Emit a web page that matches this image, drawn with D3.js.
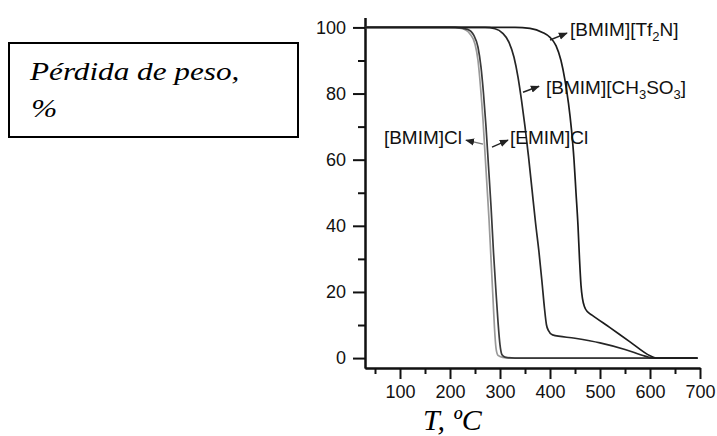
<!DOCTYPE html>
<html>
<head>
<meta charset="utf-8">
<script src="https://cdn.jsdelivr.net/npm/d3@7"></script>
<style>
  body { margin: 0; background: #fff; }
  svg { display: block; }
  .tick-label { font-family: "Liberation Sans", Arial, sans-serif; font-size: 18px; fill: #111; }
  .curve-label { font-family: "Liberation Sans", Arial, sans-serif; font-size: 19px; fill: #111; }
  .serif-it { font-family: "Liberation Serif", "Times New Roman", serif; font-style: italic; fill: #000; }
</style>
</head>
<body>
<svg id="chart"></svg>
<script>
// TGA curves, temperature (ºC) vs remaining weight (%)
var bmimCl = [[30,100],[200,100],[225,99.6],[240,98],[250,95],[256,90],[261,82],[266,72],[270,62],[274,52],[278,42],[282,30],[286,18],[289,9],[292,3],[296,0.8],[305,0.2],[320,0],[695,0]]
var emimCl = [[30,100],[210,100],[235,99.4],[248,97.5],[256,94],[262,88],[267,80],[272,70],[277,58],[282,46],[287,32],[292,20],[296,11],[300,4],[304,1],[310,0.3],[330,0],[695,0]]
var ch3so3 = [[30,100],[270,100],[290,99.6],[305,98.3],[318,95.5],[328,91],[336,85],[343,78],[350,70],[357,61],[364,51],[371,41],[378,32],[384,23],[389,15],[393,10],[397,8.3],[405,7],[450,6],[500,4.6],[550,2.6],[590,0.6],[605,0],[695,0]]
var tf2n = [[30,100],[330,100],[360,99.7],[385,98.5],[400,97],[412,94.5],[422,90],[430,84],[437,77],[443,69],[448,60],[452,50],[456,40],[459,30],[462,22],[465,18],[469,15.5],[475,14],[484,13],[520,9.2],[560,4.9],[600,0.7],[612,0],[695,0]]

var seriesNames = ["[BMIM]Cl", "[EMIM]Cl", "[BMIM][CH3SO3]", "[BMIM][Tf2N]"]
var seriesData = [bmimCl, emimCl, ch3so3, tf2n]
var seriesColors = ["#9a9a9a", "#3a3a3a", "#262626", "#1c1c1c"]

var xMajor = [100, 200, 300, 400, 500, 600, 700]
var xMinor = [50, 150, 250, 350, 450, 550, 650]
var yMajor = [0, 20, 40, 60, 80, 100]
var yMinor = [10, 30, 50, 70, 90]

// annotation arrows: [tailT, tailW, headT, headW], labels: [T, W, anchor]
var arrows = [[266, 64.7, 232, 65.9], [284, 63.8, 316, 65.9], [346, 80.4, 378, 82.2], [400, 96.2, 434, 98.3]]
var labelPos = [[224, 64.7, "end"], [320, 64.7, "start"], [392, 79.8, "start"], [440, 97.5, "start"]]

var width = 717, height = 436

var svg = d3.select("#chart").attr("width", width).attr("height", height)

var x = d3.scaleLinear().domain([30, 700]).range([365, 700])
var y = d3.scaleLinear().domain([-3, 103]).range([368, 17.5])

// axes
var xAxisMajor = d3.axisBottom(x).tickValues(xMajor).tickSize(11).tickPadding(6).tickSizeOuter(0)
var xAxisMinor = d3.axisBottom(x).tickValues(xMinor).tickSize(6).tickFormat("").tickSizeOuter(0)
var yAxisMajor = d3.axisLeft(y).tickValues(yMajor).tickSize(12).tickPadding(7).tickSizeOuter(0)
var yAxisMinor = d3.axisLeft(y).tickValues(yMinor).tickSize(7).tickFormat("").tickSizeOuter(0)

function styleAxis(g) {
    g.select(".domain").attr("stroke", "#111").attr("stroke-width", 2)
    g.selectAll(".tick line").attr("stroke", "#111").attr("stroke-width", 2)
    g.selectAll(".tick text").attr("class", "tick-label").attr("font-size", null).attr("font-family", null)
    g.attr("font-size", null).attr("font-family", null)
}

svg.append("g").attr("transform", "translate(0,368)").call(xAxisMinor).call(styleAxis)
svg.append("g").attr("transform", "translate(0,368)").call(xAxisMajor).call(styleAxis)
svg.append("g").attr("transform", "translate(365,0)").call(yAxisMinor).call(styleAxis)
svg.append("g").attr("transform", "translate(365,0)").call(yAxisMajor).call(styleAxis)

// curves
var line = d3.line()
    .x(function (d) { return x(d[0]) })
    .y(function (d) { return y(d[1]) })
    .curve(d3.curveMonotoneX)

svg.selectAll("path.curve")
    .data(seriesData)
    .enter().append("path")
    .attr("class", "curve")
    .attr("fill", "none")
    .attr("stroke", function (d, i) { return seriesColors[i] })
    .attr("stroke-width", 1.7)
    .attr("d", line)

// arrows
svg.append("defs").append("marker")
    .attr("id", "head")
    .attr("viewBox", "0 0 10 10")
    .attr("refX", 9).attr("refY", 5)
    .attr("markerWidth", 9).attr("markerHeight", 9)
    .attr("markerUnits", "userSpaceOnUse")
    .attr("orient", "auto")
    .append("path").attr("d", "M0,1 L10,5 L0,9 Z").attr("fill", "#222")

svg.selectAll("line.arrow")
    .data(arrows)
    .enter().append("line")
    .attr("class", "arrow")
    .attr("x1", function (d) { return x(d[0]) })
    .attr("y1", function (d) { return y(d[1]) })
    .attr("x2", function (d) { return x(d[2]) })
    .attr("y2", function (d) { return y(d[3]) })
    .attr("stroke", function (d, i) { return i == 0 ? "#777" : "#222" })
    .attr("stroke-width", 1.4)
    .attr("marker-end", "url(#head)")

// curve labels with subscripts
function addLabel(txt, pos) {
    var t = svg.append("text").attr("class", "curve-label")
        .attr("x", x(pos[0])).attr("y", y(pos[1]))
        .attr("text-anchor", pos[2])
    var parts = txt.split(/(\d)/)
    parts.forEach(function (p) {
        if (p === "") return
        if (/\d/.test(p)) {
            t.append("tspan").attr("font-size", 13).attr("dy", 5).text(p)
        } else {
            var s = t.append("tspan").text(p)
            if (t.selectAll("tspan").size() > 1) s.attr("dy", -5)
        }
    })
}
seriesNames.forEach(function (n, i) { addLabel(n, labelPos[i]) })

// axis title
svg.append("text").attr("class", "serif-it")
    .attr("x", 423).attr("y", 430)
    .attr("font-size", 30)
    .text("T, ºC")

// y title in a framed box
svg.append("rect")
    .attr("x", 9).attr("y", 43)
    .attr("width", 289).attr("height", 94)
    .attr("fill", "#fff").attr("stroke", "#000").attr("stroke-width", 2)

var box = svg.append("g").attr("transform", "translate(30,0) scale(1.2,1)")
box.append("text").attr("class", "serif-it").attr("font-size", 26)
    .attr("x", 0).attr("y", 80).text("Pérdida de peso,")
box.append("text").attr("class", "serif-it").attr("font-size", 26)
    .attr("x", 1).attr("y", 117).text("%")
</script>
</body>
</html>
